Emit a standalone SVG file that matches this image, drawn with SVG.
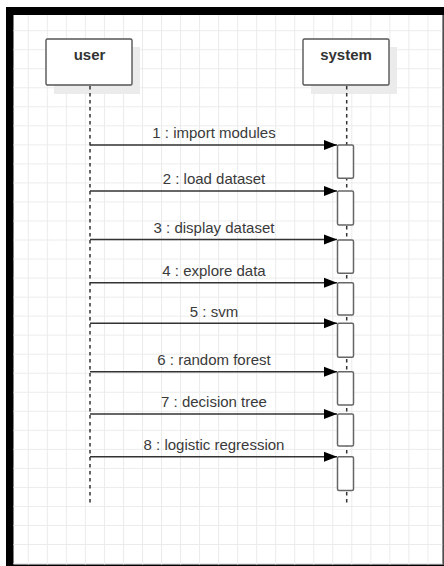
<svg xmlns="http://www.w3.org/2000/svg" width="444" height="566" viewBox="0 0 444 566">
  <defs>
    <style>
      .box { fill: #ffffff; stroke: #555555; stroke-width: 1.4; }
      .shadow { fill: #ebebeb; }
      .title { font-family: "Liberation Sans", Arial, sans-serif; font-size: 15px; font-weight: bold; fill: #333333; text-anchor: middle; }
      .lbl { font-family: "Liberation Sans", Arial, sans-serif; font-size: 15px; fill: #3a3a3a; text-anchor: middle; }
      .life { stroke: #333333; stroke-width: 1.5; stroke-dasharray: 3.5 3.5; fill: none; }
      .msg { stroke: #333333; stroke-width: 1.5; fill: none; }
      .act { fill: #ffffff; stroke: #666666; stroke-width: 1.5; }
    </style>
    <pattern id="grid" patternUnits="userSpaceOnUse" x="27.8" y="30.2" width="19.03" height="19.03">
      <path d="M0 0.5 H19.03 M0.5 0 V19.03" stroke="#ebebeb" stroke-width="1" fill="none"/>
    </pattern>
    <marker id="arr" markerUnits="userSpaceOnUse" markerWidth="14" markerHeight="12" refX="13" refY="5.5" orient="auto">
      <path d="M0,0.5 L13,5.5 L0,10.5 z" fill="#000000"/>
    </marker>
  </defs>

  <g id="frame">
    <rect x="0" y="0" width="444" height="566" fill="#ffffff"/>
    <rect x="6" y="7" width="438" height="559" fill="#000000"/>
    <rect x="13.5" y="15" width="429" height="549.5" fill="#ffffff"/>
    <rect x="13.5" y="15" width="429" height="549.5" fill="url(#grid)"/>
    <line x1="443" y1="15" x2="443" y2="565" stroke="#999999" stroke-width="1"/>
  </g>

  <g id="user">
    <rect class="shadow" x="54" y="47" width="86" height="47"/>
    <rect class="box" x="46" y="39" width="86" height="46" rx="1.5"/>
    <text class="title" x="89.5" y="60">user</text>
  </g>

  <g id="system">
    <rect class="shadow" x="311" y="47" width="86" height="47"/>
    <rect class="box" x="303" y="39" width="86" height="46" rx="1.5"/>
    <text class="title" x="346" y="60">system</text>
  </g>

  <g id="lifelines">
    <line class="life" x1="90" y1="86" x2="90" y2="503"/>
    <line class="life" x1="346.7" y1="86" x2="346.7" y2="503"/>
  </g>

  <g id="activations">
    <rect class="act" x="337.5" y="145" width="16" height="33.3" rx="1.5"/>
    <rect class="act" x="337.5" y="191" width="16" height="34" rx="1.5"/>
    <rect class="act" x="337.5" y="240" width="16" height="33.3" rx="1.5"/>
    <rect class="act" x="337.5" y="282.7" width="16" height="32.3" rx="1.5"/>
    <rect class="act" x="337.5" y="323.3" width="16" height="34" rx="1.5"/>
    <rect class="act" x="337.5" y="371.7" width="16" height="33.3" rx="1.5"/>
    <rect class="act" x="337.5" y="414" width="16" height="32" rx="1.5"/>
    <rect class="act" x="337.5" y="456.7" width="16" height="33.8" rx="1.5"/>
  </g>

  <g id="connectors">
    <line class="msg" x1="90" y1="145" x2="337" y2="145" marker-end="url(#arr)"/>
    <line class="msg" x1="90" y1="191" x2="337" y2="191" marker-end="url(#arr)"/>
    <line class="msg" x1="90" y1="239.5" x2="337" y2="239.5" marker-end="url(#arr)"/>
    <line class="msg" x1="90" y1="282.7" x2="337" y2="282.7" marker-end="url(#arr)"/>
    <line class="msg" x1="90" y1="323.3" x2="337" y2="323.3" marker-end="url(#arr)"/>
    <line class="msg" x1="90" y1="371.7" x2="337" y2="371.7" marker-end="url(#arr)"/>
    <line class="msg" x1="90" y1="414" x2="337" y2="414" marker-end="url(#arr)"/>
    <line class="msg" x1="90" y1="456.7" x2="337" y2="456.7" marker-end="url(#arr)"/>
  </g>

  <g id="labels">
    <text class="lbl" x="214" y="138">1 : import modules</text>
    <text class="lbl" x="214" y="184.3">2 : load dataset</text>
    <text class="lbl" x="214" y="232.5">3 : display dataset</text>
    <text class="lbl" x="214" y="275.8">4 : explore data</text>
    <text class="lbl" x="214" y="316.6">5 : svm</text>
    <text class="lbl" x="214" y="364.8">6 : random forest</text>
    <text class="lbl" x="214" y="407.2">7 : decision tree</text>
    <text class="lbl" x="214" y="449.8">8 : logistic regression</text>
  </g>
</svg>
